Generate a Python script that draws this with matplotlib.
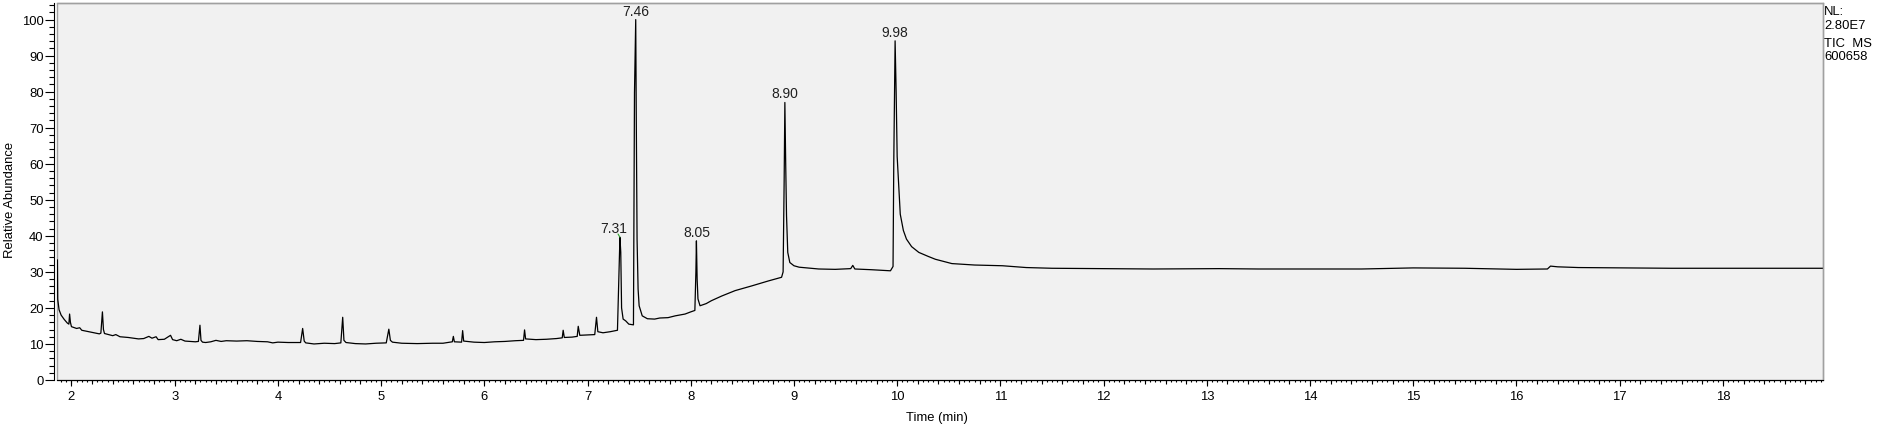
import matplotlib
matplotlib.use("Agg")
import matplotlib.pyplot as plt
from matplotlib.ticker import MultipleLocator

plt.rcParams['font.family'] = ['Liberation Sans', 'DejaVu Sans']

# TIC trace (retention time in min, relative abundance in %)
rt_min = [
    1.864, 1.867, 1.88, 1.90, 1.93, 1.96, 1.975, 1.982, 1.99, 2.00,
    2.05, 2.08, 2.10, 2.15, 2.20, 2.27, 2.285, 2.30, 2.31, 2.32,
    2.40, 2.43, 2.47, 2.55, 2.65, 2.70, 2.75, 2.78, 2.82, 2.84,
    2.90, 2.96, 2.98, 3.02, 3.06, 3.10, 3.20, 3.23, 3.245, 3.255,
    3.27, 3.30, 3.35, 3.40, 3.45, 3.50, 3.60, 3.70, 3.80, 3.90,
    3.95, 4.00, 4.10, 4.22, 4.24, 4.255, 4.27, 4.35, 4.45, 4.55,
    4.61, 4.628, 4.64, 4.66, 4.75, 4.85, 4.95, 5.05, 5.075, 5.09,
    5.11, 5.20, 5.35, 5.50, 5.60, 5.69, 5.70, 5.71, 5.78, 5.79,
    5.80, 5.90, 6.00, 6.10, 6.20, 6.30, 6.38, 6.39, 6.40, 6.50,
    6.60, 6.70, 6.755, 6.764, 6.775, 6.85, 6.90, 6.91, 6.925, 7.00,
    7.07, 7.087, 7.10, 7.15, 7.22, 7.29, 7.305, 7.314, 7.322, 7.33,
    7.345, 7.37, 7.40, 7.445, 7.455, 7.467, 7.472, 7.48, 7.49, 7.50,
    7.53, 7.58, 7.65, 7.70, 7.78, 7.85, 7.945, 8.00, 8.04, 8.05,
    8.055, 8.062, 8.07, 8.09, 8.15, 8.20, 8.30, 8.43, 8.59, 8.754,
    8.88, 8.895, 8.905, 8.912, 8.92, 8.928, 8.94, 8.96, 9.00, 9.05,
    9.24, 9.40, 9.55, 9.57, 9.59, 9.75, 9.935, 9.96, 9.967, 9.98,
    9.99, 10.00, 10.03, 10.06, 10.09, 10.14, 10.21, 10.30, 10.37, 10.53,
    10.75, 11.02, 11.25, 11.50, 12.00, 12.48, 13.12, 13.50, 13.93, 14.50,
    15.00, 15.50, 16.00, 16.30, 16.33, 16.40, 16.60, 17.00, 17.50, 18.00,
    18.50, 19.00,
]
rel_abund = [
    33.3, 22.4, 19.5, 18.0, 16.8, 15.8, 15.5, 18.3, 16.0, 14.8,
    14.3, 14.5, 13.8, 13.5, 13.2, 12.8, 13.0, 18.9, 14.0, 12.9,
    12.3, 12.6, 12.0, 11.8, 11.4, 11.5, 12.1, 11.6, 12.0, 11.2,
    11.3, 12.4, 11.2, 10.9, 11.3, 10.8, 10.6, 10.7, 15.2, 11.0,
    10.5, 10.4, 10.6, 11.0, 10.7, 10.9, 10.8, 10.9, 10.7, 10.6,
    10.3, 10.5, 10.4, 10.4, 14.3, 10.8, 10.3, 10.0, 10.2, 10.1,
    10.3, 17.4, 11.0, 10.4, 10.1, 10.0, 10.2, 10.3, 14.1, 11.0,
    10.5, 10.2, 10.1, 10.2, 10.2, 10.6, 12.1, 10.6, 10.5, 13.7,
    10.8, 10.5, 10.4, 10.6, 10.7, 10.9, 11.0, 13.9, 11.4, 11.2,
    11.3, 11.5, 11.7, 13.8, 11.8, 11.9, 12.1, 14.9, 12.4, 12.5,
    12.6, 17.4, 13.4, 13.1, 13.4, 13.8, 30.0, 39.6, 35.5, 20.0,
    16.9, 16.4, 15.5, 15.3, 79.7, 100.0, 74.3, 39.1, 25.2, 20.6,
    17.8, 17.0, 16.9, 17.2, 17.3, 17.8, 18.3, 18.9, 19.3, 30.0,
    38.6, 28.0, 22.5, 20.6, 21.2, 22.0, 23.3, 24.8, 26.1, 27.5,
    28.5, 30.0, 55.0, 77.0, 60.0, 45.6, 35.4, 32.6, 31.7, 31.3,
    30.8, 30.7, 30.9, 31.8, 30.8, 30.6, 30.3, 31.5, 60.0, 94.1,
    80.0, 62.0, 46.0, 41.5, 39.1, 37.0, 35.4, 34.3, 33.5, 32.3,
    31.9, 31.7, 31.2, 31.0, 30.9, 30.8, 30.9, 30.8, 30.8, 30.8,
    31.1, 31.0, 30.7, 30.8, 31.6, 31.4, 31.2, 31.1, 31.0, 31.0,
    31.0, 31.0,
]

# labelled peaks
peak_labels = ["7.31", "7.46", "8.05", "8.90", "9.98"]
peak_rt = [7.314, 7.467, 8.055, 8.912, 9.98]
peak_height = [39.6, 100.0, 38.6, 77.0, 94.1]

header_lines = ["NL:", "2.80E7", "TIC  MS", "600658"]

W, H = 1881, 431
fig = plt.figure(figsize=(W / 100, H / 100), dpi=100)
ax = fig.add_axes([57 / W, 1 - 381 / H, (1823 - 57) / W, (381 - 4) / H])
ax.set_facecolor('#f1f1f1')
ax.patch.set_edgecolor('#a0a0a0')
ax.patch.set_linewidth(1.0)

ax.plot(rt_min, rel_abund, color='black', lw=0.9)

for lab, t, h in zip(peak_labels, peak_rt, peak_height):
    dx = -4.7 if lab == "7.31" else 0
    ax.annotate(lab, (t, h), xytext=(dx, 3.6), textcoords='offset points',
                ha='center', va='baseline', fontsize=10, color='#202020')
ax.annotate("", (7.314, 39.6), xytext=(7.296, 40.5),
            arrowprops=dict(arrowstyle='-', color='#2ca02c', lw=0.8,
                            shrinkA=0, shrinkB=0))

ax.set_xlim(1.86, 18.97)
ax.set_ylim(0, 104.6)

for side in ['top', 'right']:
    ax.spines[side].set_color('#a0a0a0')
    ax.spines[side].set_linewidth(1.0)
for side in ['left', 'bottom']:
    ax.spines[side].set_color('black')
    ax.spines[side].set_linewidth(0.8)
ax.spines['left'].set_position(('outward', 2.2))

ax.yaxis.set_major_locator(MultipleLocator(10))
ax.yaxis.set_minor_locator(MultipleLocator(2))
ax.xaxis.set_major_locator(MultipleLocator(1))
ax.xaxis.set_minor_locator(MultipleLocator(0.05))
ax.tick_params(axis='y', which='major', length=6.5, width=0.8, pad=1, labelsize=9.4)
ax.tick_params(axis='y', which='minor', length=3.5, width=0.8)
ax.tick_params(axis='x', which='major', length=4.3, width=0.8, pad=3, labelsize=9.4)
ax.tick_params(axis='x', which='minor', length=1.5, width=0.8)

# middle-length ticks every 0.2 min
sec = ax.secondary_xaxis('bottom')
sec.xaxis.set_major_locator(MultipleLocator(0.2))
sec.tick_params(axis='x', which='major', length=3, width=0.8, labelbottom=False)
sec.tick_params(axis='x', which='minor', bottom=False)
sec.spines['bottom'].set_visible(False)

fig.text(10 / W, 1 - 200 / H, "Relative Abundance", rotation=90,
         ha='center', va='center', fontsize=9.4)
fig.text(937 / W, 1 - 418 / H, "Time (min)", ha='center', va='center', fontsize=9.4)

for txt, base in zip(header_lines, [15, 29, 47, 60]):
    fig.text(1824 / W, 1 - base / H, txt, ha='left', va='baseline', fontsize=9.4)

fig.savefig("out.png", dpi=100)
